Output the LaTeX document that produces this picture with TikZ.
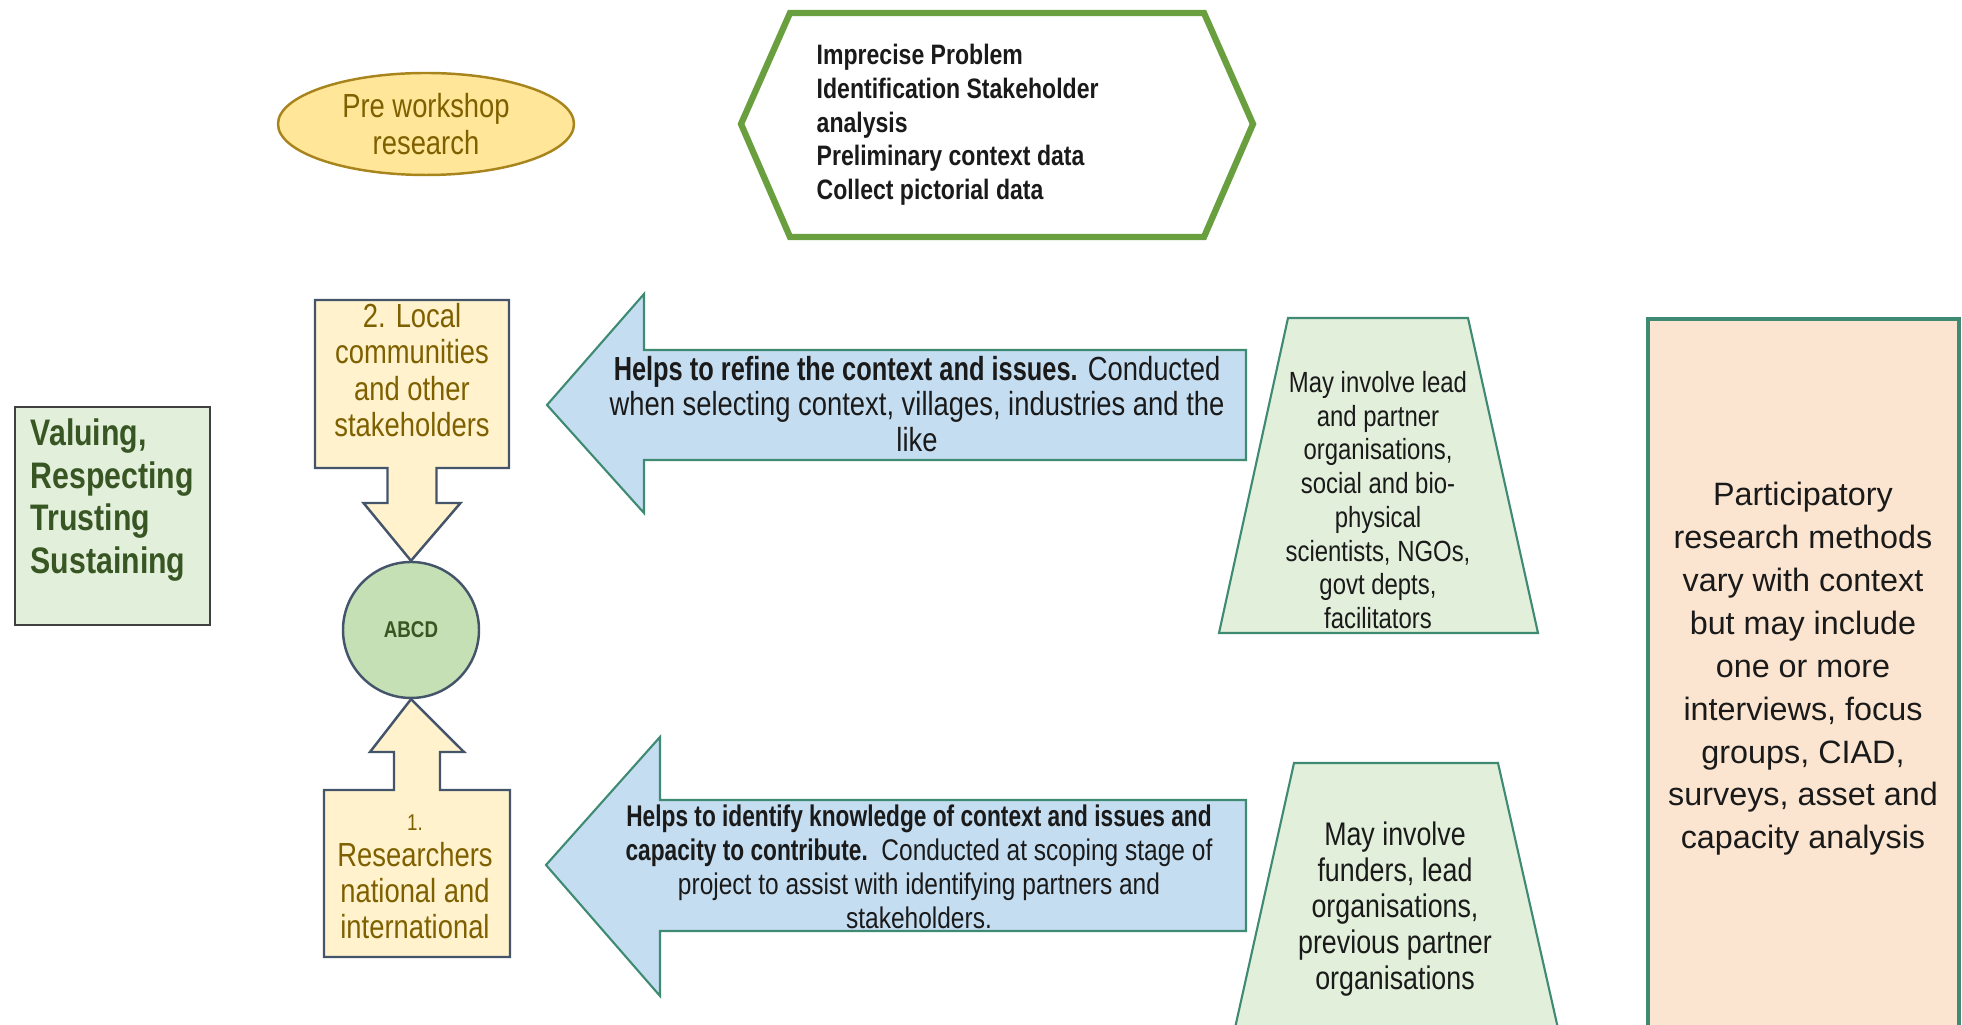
\documentclass[tikz,border=0pt]{standalone}
\usepackage{fontspec}
\setmainfont{Liberation Sans}
\newfontfamily\narrowfont[FakeStretch=0.82]{Liberation Sans}
\newfontfamily\tightfont[FakeStretch=0.76]{Liberation Sans}
\usetikzlibrary{shapes.geometric}
\newcommand\fsz[2]{\fontsize{#1}{#2}\selectfont}
\newcommand\lead[1]{{\tightfont\bfseries #1}}
\definecolor{paleyellow}{HTML}{FFF2CC}
\definecolor{goldfill}{HTML}{FFE699}
\definecolor{goldline}{HTML}{A8841C}
\definecolor{olivetext}{HTML}{7F6000}
\definecolor{slateline}{HTML}{44546A}
\definecolor{hexgreen}{HTML}{6A9F3F}
\definecolor{valuefill}{HTML}{E2EFDA}
\definecolor{valueline}{HTML}{404040}
\definecolor{deepgreen}{HTML}{385623}
\definecolor{hubfill}{HTML}{C5E0B4}
\definecolor{paleblue}{HTML}{C5DDF0}
\definecolor{tealline}{HTML}{3E8A72}
\definecolor{palegreen}{HTML}{E2EFDA}
\definecolor{palepeach}{HTML}{FBE5D0}
\definecolor{inktext}{HTML}{1A1A1A}

\begin{document}
\begin{tikzpicture}[callout/.style={draw=slateline,fill=paleyellow,line width=0.7pt},calltext/.style={align=center,text=olivetext,font={\narrowfont\fsz{9.5}{10.3}}},prework/.style={ellipse,draw=goldline,fill=goldfill,line width=0.7pt,minimum width=2.96cm,minimum height=1.02cm,inner sep=0pt,align=center,text=olivetext,font={\narrowfont\fsz{9.5}{10.3}}},hexline/.style={draw=hexgreen,line width=1.8pt},steptext/.style={align=left,inner sep=0pt,text=inktext,font={\narrowfont\bfseries\fsz{8}{9.6}}},valuebox/.style={draw=valueline,fill=valuefill,line width=0.7pt},valuetext/.style={align=left,inner sep=0pt,text=deepgreen,font={\narrowfont\bfseries\fsz{10.5}{12.2}}},hub/.style={circle,draw=slateline,fill=hubfill,line width=0.7pt,minimum size=1.36cm,inner sep=0pt,text=deepgreen,font={\narrowfont\bfseries\fsz{6.5}{8}}},bluearrow/.style={draw=tealline,fill=paleblue,line width=0.6pt},arrowtext/.style={align=center,text=inktext,font={\narrowfont\fsz{9.5}{10.2}}},trap/.style={draw=tealline,fill=palegreen,line width=0.6pt},traptext/.style={align=center,text=inktext,font={\narrowfont\fsz{8.3}{9.6}}},methodbox/.style={draw=tealline,fill=palepeach,line width=0.9pt},methodtext/.style={align=center,text=inktext,font={\fsz{9.2}{12.2}}}]
\useasboundingbox (0,0) rectangle (19.62,10.25); \clip (0,0) rectangle (19.62,10.25);
\node[prework] (prework) at (4.26,9.01) {Pre workshop\\research};
\draw[hexline] (7.41,9.01) -- (7.90,10.12) -- (12.04,10.12) -- (12.53,9.01) -- (12.04,7.88) -- (7.90,7.88) -- cycle;
\node[steptext,anchor=west] (steps) at (8.16,9.00) {Imprecise Problem\\Identification Stakeholder\\analysis\\Preliminary context data\\Collect pictorial data};
\draw[valuebox] (0.15,4.00) rectangle (2.10,6.18);
\node[valuetext,anchor=west] (values) at (0.30,5.25) {Valuing,\\Respecting\\Trusting\\Sustaining};
\node[hub] (abcd) at (4.11,3.95) {ABCD};
\draw[callout] (3.15,7.25) -- (5.09,7.25) -- (5.09,5.57) -- (4.365,5.57) -- (4.365,5.22) -- (4.605,5.22) -- (abcd.north) -- (3.635,5.22) -- (3.875,5.22) -- (3.875,5.57) -- (3.15,5.57) -- cycle;
\node[calltext] (local) at (4.12,6.55) {2. Local\\communities\\and other\\stakeholders};
\draw[callout] (3.24,0.68) -- (5.10,0.68) -- (5.10,2.35) -- (4.40,2.35) -- (4.40,2.73) -- (4.64,2.73) -- (abcd.south) -- (3.70,2.73) -- (3.94,2.73) -- (3.94,2.35) -- (3.24,2.35) -- cycle;
\node[calltext] (researchers) at (4.15,1.48) {{\fsz{6.5}{10.3}1.}\\Researchers\\national and\\international};
\draw[bluearrow] (5.47,6.20) -- (6.44,7.31) -- (6.44,6.75) -- (12.46,6.75) -- (12.46,5.65) -- (6.44,5.65) -- (6.44,5.12) -- cycle;
\node[arrowtext] (refine) at (9.17,6.21) {\lead{Helps to refine the context and issues.} Conducted\\when selecting context, villages, industries and the\\like};
\draw[bluearrow] (5.46,1.60) -- (6.60,2.88) -- (6.60,2.25) -- (12.46,2.25) -- (12.46,0.94) -- (6.60,0.94) -- (6.60,0.29) -- cycle;
\node[arrowtext,font={\narrowfont\fsz{8.5}{9.7}}] (identify) at (9.19,1.58) {\lead{Helps to identify knowledge of context and issues and}\\\lead{capacity to contribute.}\ \ Conducted at scoping stage of\\project to assist with identifying partners and\\stakeholders.};
\draw[trap] (12.19,3.92) -- (12.88,7.07) -- (14.68,7.07) -- (15.38,3.92) -- cycle;
\node[traptext] (involveA) at (13.78,5.25) {May involve lead\\and partner\\organisations,\\social and bio-\\physical\\scientists, NGOs,\\govt depts,\\facilitators};
\draw[trap] (12.29,-0.3) -- (12.94,2.62) -- (14.98,2.62) -- (15.64,-0.3) -- cycle;
\node[traptext,font={\narrowfont\fsz{9.3}{10.2}}] (involveB) at (13.95,1.16) {May involve\\funders, lead\\organisations,\\previous partner\\organisations};
\draw[methodbox] (16.48,-0.3) rectangle (19.59,7.06);
\node[methodtext] (methods) at (18.03,3.56) {Participatory\\research methods\\vary with context\\but may include\\one or more\\interviews, focus\\groups, CIAD,\\surveys, asset and\\capacity analysis};
\end{tikzpicture}
\end{document}
